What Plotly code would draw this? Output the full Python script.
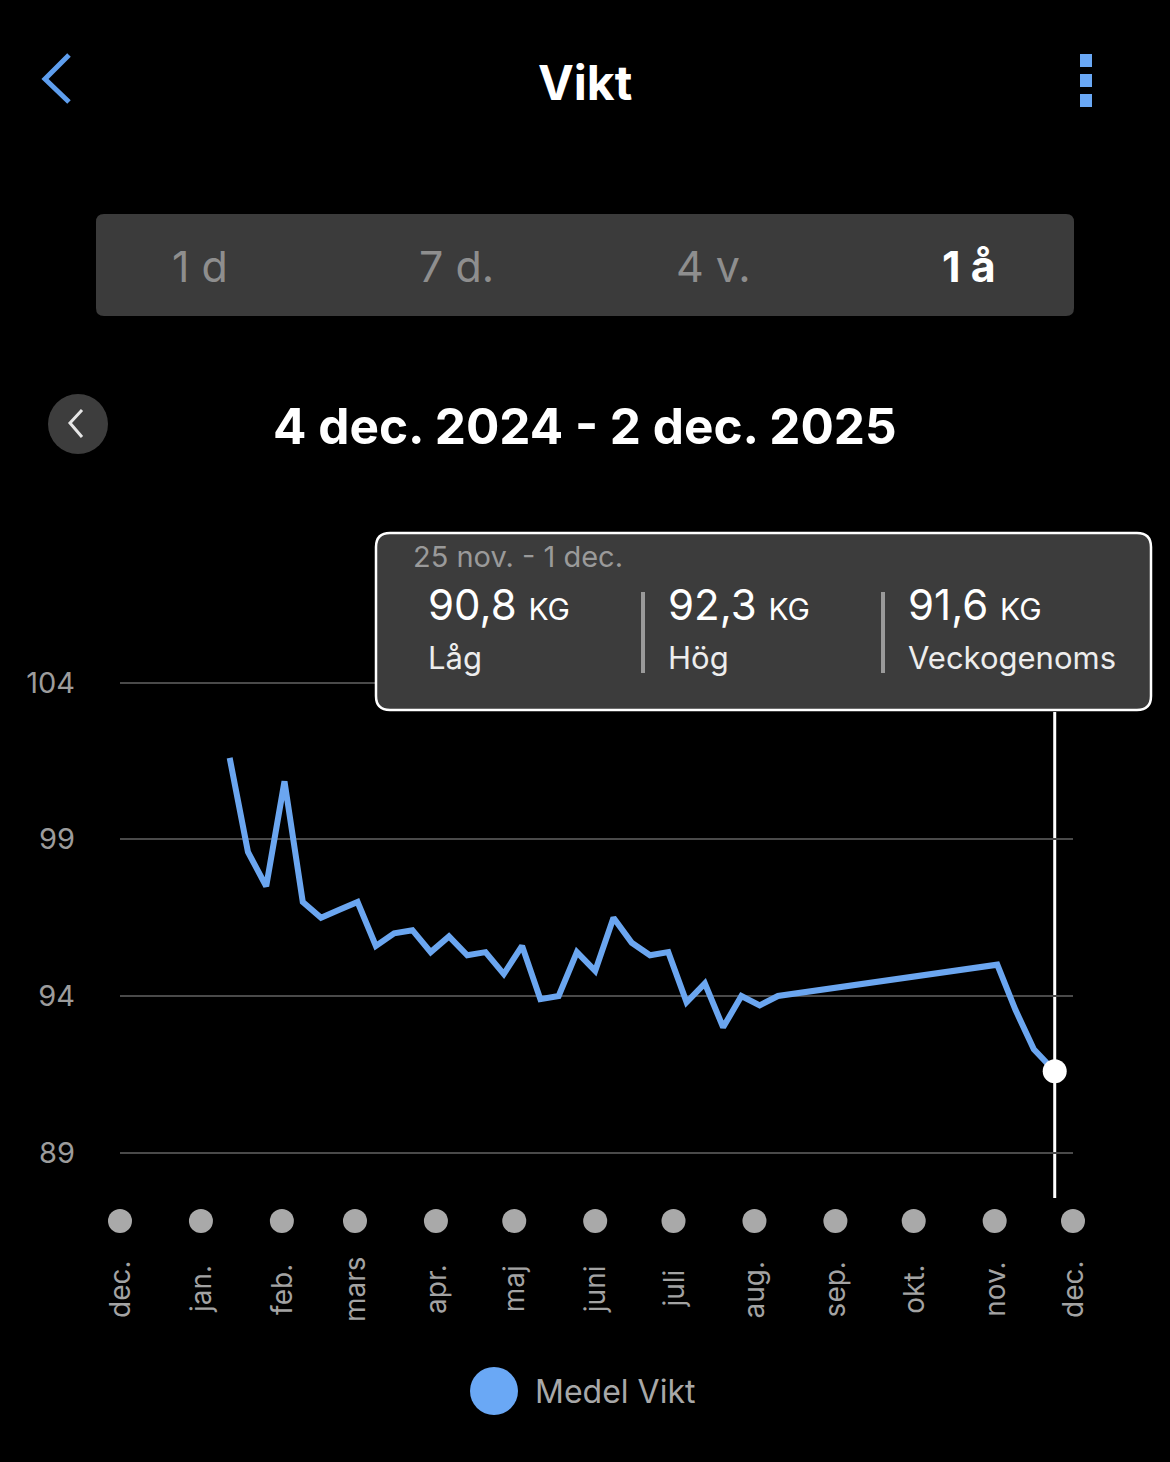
import plotly.graph_objects as go

W, H = 1170, 1462


def PX(x):
    return x / W


def PY(y):
    return 1 - y / H


# ---------------- data ----------------
WEEK_DATES = [
    "2025-01-12", "2025-01-19", "2025-01-26", "2025-02-02", "2025-02-09",
    "2025-02-16", "2025-02-23", "2025-03-02", "2025-03-09", "2025-03-16",
    "2025-03-23", "2025-03-30", "2025-04-06", "2025-04-13", "2025-04-20",
    "2025-04-27", "2025-05-04", "2025-05-11", "2025-05-18", "2025-05-25",
    "2025-06-01", "2025-06-08", "2025-06-15", "2025-06-22", "2025-06-29",
    "2025-07-06", "2025-07-13", "2025-07-20", "2025-07-27", "2025-08-03",
    "2025-08-10", "2025-11-02", "2025-11-09", "2025-11-16", "2025-11-24",
]
MEDEL_VIKT = [
    101.6, 98.6, 97.5, 100.85, 97.0,
    96.5, 96.75, 97.0, 95.6, 96.0,
    96.1, 95.4, 95.9, 95.3, 95.4,
    94.7, 95.6, 93.9, 94.0, 95.4,
    94.8, 96.5, 95.7, 95.3, 95.4,
    93.8, 94.4, 93.0, 94.0, 93.7,
    94.0, 95.0, 93.55, 92.3, 91.6,
]
MONTH_DATES = [
    "2024-12-01", "2025-01-01", "2025-02-01", "2025-03-01", "2025-04-01",
    "2025-05-01", "2025-06-01", "2025-07-01", "2025-08-01", "2025-09-01",
    "2025-10-01", "2025-11-01", "2025-12-01",
]
MONTH_LABELS = ["dec.", "jan.", "feb.", "mars", "apr.", "maj", "juni",
                "juli", "aug.", "sep.", "okt.", "nov.", "dec."]
Y_TICKS = [89, 94, 99, 104]
PERIODS = ["1 d", "7 d.", "4 v.", "1 å"]
ACTIVE_PERIOD = "1 å"
TITLE = "Vikt"
DATE_RANGE = "4 dec. 2024 - 2 dec. 2025"
TOOLTIP_RANGE = "25 nov. - 1 dec."
TOOLTIP_VALUES = [90.8, 92.3, 91.6]
TOOLTIP_LABELS = ["Låg", "Hög", "Veckogenoms"]
UNIT = "KG"
SERIES_NAME = "Medel Vikt"

# ---------------- style ----------------
FONT = "Inter, Roboto, 'Liberation Sans', sans-serif"
BLUE = "#6BA6F0"
GRAY_TXT = "#9C9C9C"
PANEL = "#3B3B3B"


def rrect(x0, y0, x1, y1, r):
    rx, ry = r, r
    pts = [
        ("M", [(x0 + rx, y0)]),
        ("L", [(x1 - rx, y0)]),
        ("Q", [(x1, y0), (x1, y0 + ry)]),
        ("L", [(x1, y1 - ry)]),
        ("Q", [(x1, y1), (x1 - rx, y1)]),
        ("L", [(x0 + rx, y1)]),
        ("Q", [(x0, y1), (x0, y1 - ry)]),
        ("L", [(x0, y0 + ry)]),
        ("Q", [(x0, y0), (x0 + rx, y0)]),
    ]
    s = ""
    for cmd, ps in pts:
        s += cmd + " " + " ".join(f"{PX(a):.5f},{PY(b):.5f}" for a, b in ps) + " "
    return s + "Z"


def polyline(points):
    return "M " + " L ".join(f"{PX(a):.5f},{PY(b):.5f}" for a, b in points)


fig = go.Figure()

# main weight line
fig.add_trace(go.Scatter(
    x=WEEK_DATES, y=MEDEL_VIKT, mode="lines", name=SERIES_NAME,
    line=dict(color=BLUE, width=6), xaxis="x", yaxis="y",
    showlegend=False, hoverinfo="skip",
))
# selected point
fig.add_trace(go.Scatter(
    x=[WEEK_DATES[-1]], y=[MEDEL_VIKT[-1]], mode="markers",
    marker=dict(color="white", size=24), xaxis="x", yaxis="y",
    showlegend=False, hoverinfo="skip", cliponaxis=False,
))
# month dots row
fig.add_trace(go.Scatter(
    x=MONTH_DATES, y=[0] * len(MONTH_DATES), mode="markers",
    marker=dict(color="#A9A9A9", size=24), xaxis="x", yaxis="y2",
    showlegend=False, hoverinfo="skip", cliponaxis=False,
))

shapes = []
annotations = []

# cursor line
shapes.append(dict(type="line", xref="x", yref="paper",
                   x0=WEEK_DATES[-1], x1=WEEK_DATES[-1],
                   y0=PY(1198), y1=PY(712),
                   line=dict(color="white", width=3), layer="below"))

# header: back chevron
shapes.append(dict(type="path", xref="paper", yref="paper",
                   path=polyline([(69, 55), (45, 79), (69, 102)]),
                   line=dict(color="#5E9EEE", width=5)))
# menu dots
for yy in (54, 74, 94):
    shapes.append(dict(type="rect", xref="paper", yref="paper",
                       x0=PX(1080), x1=PX(1092), y0=PY(yy), y1=PY(yy + 13),
                       fillcolor="#6AA8F5", line=dict(width=0)))
annotations.append(dict(x=PX(585), y=PY(82), xref="paper", yref="paper",
                        text=f"<b>{TITLE}</b>", showarrow=False,
                        font=dict(family=FONT, size=48, color="white"),
                        xanchor="center", yanchor="middle"))

# segmented control
shapes.append(dict(type="path", xref="paper", yref="paper",
                   path=rrect(96, 214, 1074, 316, 8),
                   fillcolor=PANEL, line=dict(width=0)))
seg_centers = [200, 456, 713, 969]
for lab, cx in zip(PERIODS, seg_centers):
    active = lab == ACTIVE_PERIOD
    annotations.append(dict(x=PX(cx), y=PY(266), xref="paper", yref="paper",
                            text=f"<b>{lab}</b>" if active else lab,
                            showarrow=False,
                            font=dict(family=FONT, size=43,
                                      color="white" if active else "#8E8E8E"),
                            xanchor="center", yanchor="middle"))

# date range row
shapes.append(dict(type="circle", xref="paper", yref="paper",
                   x0=PX(48), x1=PX(108), y0=PY(394), y1=PY(454),
                   fillcolor="#3D3D3D", line=dict(width=0)))
shapes.append(dict(type="path", xref="paper", yref="paper",
                   path=polyline([(82, 410), (70, 423), (82, 437)]),
                   line=dict(color="#E6E6E6", width=3)))
annotations.append(dict(x=PX(585), y=PY(426), xref="paper", yref="paper",
                        text=f"<b>{DATE_RANGE}</b>", showarrow=False,
                        font=dict(family=FONT, size=49.5, color="white"),
                        xanchor="center", yanchor="middle"))

# tooltip
shapes.append(dict(type="path", xref="paper", yref="paper",
                   path=rrect(376, 533, 1151, 710, 14),
                   fillcolor="#3C3C3C", line=dict(color="white", width=2.5),
                   layer="above"))
annotations.append(dict(x=PX(411), y=PY(557), xref="paper", yref="paper",
                        text=TOOLTIP_RANGE, showarrow=False,
                        font=dict(family=FONT, size=29, color="#9A9A9A"),
                        xanchor="left", yanchor="middle"))
col_x = [426, 666, 906]
for i, (v, lab, cx) in enumerate(zip(TOOLTIP_VALUES, TOOLTIP_LABELS, col_x)):
    vtxt = f"{v:.1f}".replace(".", ",")
    annotations.append(dict(x=PX(cx), y=PY(604), xref="paper", yref="paper",
                            text=f"{vtxt} <span style='font-size:30px'>{UNIT}</span>",
                            showarrow=False,
                            font=dict(family=FONT, size=42, color="white"),
                            xanchor="left", yanchor="middle"))
    annotations.append(dict(x=PX(cx), y=PY(657), xref="paper", yref="paper",
                            text=lab, showarrow=False,
                            font=dict(family=FONT, size=31, color="#EDEDED"),
                            xanchor="left", yanchor="middle"))
for sx in (643, 883):
    shapes.append(dict(type="line", xref="paper", yref="paper",
                       x0=PX(sx), x1=PX(sx), y0=PY(592), y1=PY(673),
                       line=dict(color="#9A9A9A", width=4), layer="above"))

# month labels (rotated, centered)
for d, lab in zip(MONTH_DATES, MONTH_LABELS):
    annotations.append(dict(x=d, y=PY(1289), xref="x", yref="paper",
                            text=lab, textangle=-90, showarrow=False,
                            font=dict(family=FONT, size=28, color="#A3A3A3"),
                            xanchor="center", yanchor="middle"))

# legend
shapes.append(dict(type="circle", xref="paper", yref="paper",
                   x0=PX(470), x1=PX(518), y0=PY(1367), y1=PY(1415),
                   fillcolor="#6AA8F5", line=dict(width=0)))
annotations.append(dict(x=PX(533), y=PY(1391), xref="paper", yref="paper",
                        text=SERIES_NAME, showarrow=False,
                        font=dict(family=FONT, size=32, color="#A8A8A8"),
                        xanchor="left", yanchor="middle"))

# axis pixel mapping: 94 at y=996, 31.333 px per kg
px_per_kg = (1153 - 683) / 15.0
y_top = 94 + (996 - 600) / px_per_kg
y_bot = 94 - (1200 - 996) / px_per_kg

fig.update_layout(
    width=W, height=H,
    margin=dict(l=0, r=0, t=0, b=0),
    paper_bgcolor="black", plot_bgcolor="black",
    hovermode=False,
    showlegend=False,
    xaxis=dict(domain=[PX(120), PX(1073)], type="date",
               range=["2024-12-01", "2025-12-01"],
               showticklabels=False, showgrid=False, zeroline=False,
               showline=False, ticks="", anchor="y", fixedrange=True),
    yaxis=dict(domain=[PY(1200), PY(600)], range=[y_bot, y_top],
               tickvals=Y_TICKS, ticktext=[str(t) for t in Y_TICKS],
               showgrid=True, gridcolor="#4A4A4A", gridwidth=2,
               zeroline=False, showline=False, ticks="",
               ticklabelstandoff=44,
               tickfont=dict(family=FONT, size=29, color=GRAY_TXT),
               anchor="x", fixedrange=True),
    yaxis2=dict(domain=[PY(1240), PY(1202)], range=[-1, 1],
                visible=False, anchor="x", fixedrange=True),
    shapes=shapes,
    annotations=annotations,
)

fig.write_html("out.html", config={"displayModeBar": False, "staticPlot": True})
